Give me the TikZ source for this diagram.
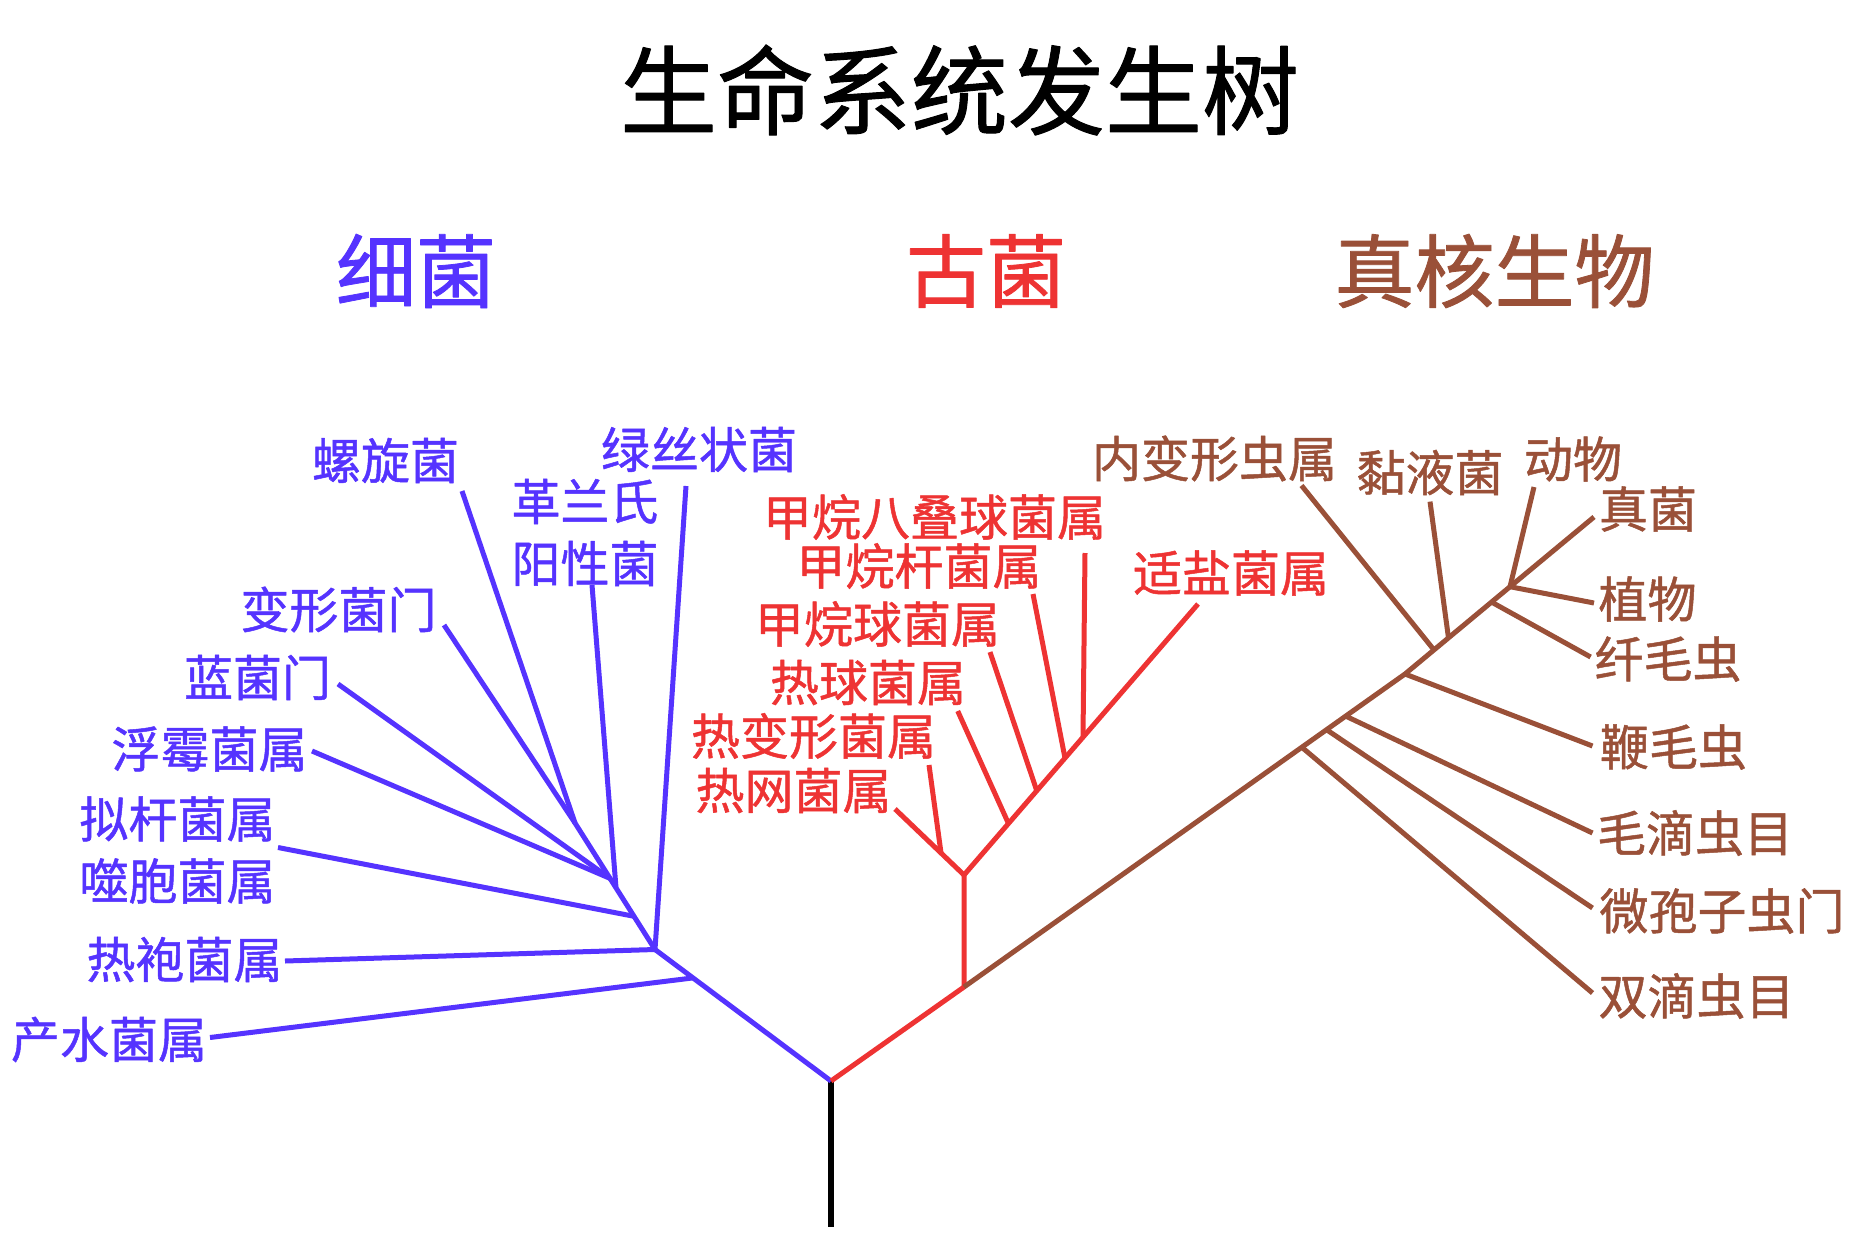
\documentclass[tikz,border=0pt]{standalone}
\usepackage{fontspec}
\setmainfont{Noto Sans CJK SC}
\newfontfamily\cjkb{Noto Sans CJK SC}[FakeBold=1]
\usetikzlibrary{calc}
\definecolor{bact}{HTML}{5533FF}
\definecolor{arch}{HTML}{EE3333}
\definecolor{euk}{HTML}{9A5038}
\begin{document}
\begin{tikzpicture}[x=1pt,y=-1pt,line join=round,
  lbl/.style={inner sep=0pt,font=\cjkb\fontsize{49}{62}\selectfont,align=center},
  head/.style={inner sep=0pt,font=\cjkb\fontsize{80}{90}\selectfont},
  bline/.style={draw=bact,line width=5pt},
  rline/.style={draw=arch,line width=5pt},
  eline/.style={draw=euk,line width=5pt}]
\useasboundingbox[fill=white] (0,0) rectangle (1850,1250);

% title and headings
\node[inner sep=0pt,font=\cjkb\fontsize{97}{110}\selectfont] (title) at (959.5,90) {生命系统发生树};
\node[head,text=bact] (hB) at (416,271) {细菌};
\node[head,text=arch] (hA) at (986,271) {古菌};
\node[head,text=euk] (hE) at (1494.5,271) {真核生物};

% root
\coordinate (root) at (831,1081);
\coordinate (rootbot) at (831,1227);
\draw[line width=6pt,black] (root) -- (rootbot);

% ---------- bacteria ----------
\coordinate (Jb) at (655,949.5);
\coordinate (Jtop) at (575,823);
\coordinate (Jpos) at ($(Jtop)!0.5125!(Jb)$);
\coordinate (Jcy) at ($(Jtop)!0.4375!(Jb)$);
\coordinate (Jbac) at ($(Jtop)!0.7375!(Jb)$);
\coordinate (Jaq) at ($(Jb)!0.216!(root)$);
\coordinate (tSpi) at (462,491);
\coordinate (tPro) at (444,625);
\coordinate (tPos) at (592,585);
\coordinate (tCya) at (338,684);
\coordinate (tPla) at (312,751);
\coordinate (tBac) at (278,847.5);
\coordinate (tGre) at (686,486);
\coordinate (tThe) at (285,961);
\coordinate (tAqu) at (210,1037.5);

\draw[bline] (root) -- (Jb) -- (Jtop);
\draw[bline] (tSpi) -- (Jtop);
\draw[bline] (tPro) -- (Jtop);
\draw[bline] (tPos) -- (Jpos);
\draw[bline] (tCya) -- (Jcy);
\draw[bline] (tPla) -- (Jcy);
\draw[bline] (tBac) -- (Jbac);
\draw[bline] (tGre) -- (Jb);
\draw[bline] (tThe) -- (Jb);
\draw[bline] (tAqu) -- (Jaq);

\node[lbl,text=bact] (lSpi) at (385.5,460.5) {螺旋菌};
\node[lbl,text=bact] (lGre) at (699,449.5) {绿丝状菌};
\node[lbl,text=bact] (lPos) at (585,532.5) {革兰氏\\阳性菌};
\node[lbl,text=bact] (lPro) at (338.5,609.5) {变形菌门};
\node[lbl,text=bact] (lCya) at (257.5,677.5) {蓝菌门};
\node[lbl,text=bact] (lPla) at (209.5,749) {浮霉菌属};
\node[lbl,text=bact] (lBac) at (177.5,850) {拟杆菌属\\噬胞菌属};
\node[lbl,text=bact] (lThe) at (184.5,959.5) {热袍菌属};
\node[lbl,text=bact] (lAqu) at (109,1039.5) {产水菌属};

% ---------- archaea ----------
\coordinate (Jae) at (964,987);
\coordinate (Jr) at (964,875);
\coordinate (tHal) at (1198,604);
\coordinate (tPyd) at (895,809);
\coordinate (Jfork) at ($(Jr)!0.333!(tPyd)$);
\coordinate (tThp) at (929,765);
\coordinate (JTco) at ($(Jr)!0.19!(tHal)$);
\coordinate (JMco) at ($(Jr)!0.311!(tHal)$);
\coordinate (JMba) at ($(Jr)!0.4316!(tHal)$);
\coordinate (JMsa) at ($(Jr)!0.5085!(tHal)$);
\coordinate (tTco) at (957.7,711);
\coordinate (tMco) at (990,652);
\coordinate (tMba) at (1033,594);
\coordinate (tMsa) at (1085,553);

\draw[rline] (root) -- (Jae) -- (Jr);
\draw[rline] (Jr) -- (tHal);
\draw[rline] (Jr) -- (tPyd);
\draw[rline] (tThp) -- (Jfork);
\draw[rline] (tTco) -- (JTco);
\draw[rline] (tMco) -- (JMco);
\draw[rline] (tMba) -- (JMba);
\draw[rline] (tMsa) -- (JMsa);

\node[lbl,text=arch] (lMsa) at (934.5,517) {甲烷八叠球菌属};
\node[lbl,text=arch] (lMba) at (919,566) {甲烷杆菌属};
\node[lbl,text=arch] (lMco) at (877.5,624) {甲烷球菌属};
\node[lbl,text=arch] (lTco) at (868,682.5) {热球菌属};
\node[lbl,text=arch] (lThp) at (813.5,736) {热变形菌属};
\node[lbl,text=arch] (lPyd) at (793.5,790.5) {热网菌属};
\node[lbl,text=arch] (lHal) at (1231,573) {适盐菌属};

% ---------- eukaryotes ----------
\coordinate (Je1) at (1405,674);
\coordinate (Je2) at (1510,586.7);
\coordinate (JDip) at ($(Jae)!0.766!(Je1)$);
\coordinate (JMic) at ($(Jae)!0.822!(Je1)$);
\coordinate (JTri) at ($(Jae)!0.8655!(Je1)$);
\coordinate (JEnt) at ($(Je1)!0.276!(Je2)$);
\coordinate (JSli) at ($(Je1)!0.414!(Je2)$);
\coordinate (JCil) at ($(Je1)!0.824!(Je2)$);
\coordinate (tEnt) at (1301.5,485.5);
\coordinate (tSli) at (1430,501.6);
\coordinate (tAni) at (1534,487);
\coordinate (tFun) at (1594,517);
\coordinate (tPlt) at (1594,603);
\coordinate (tCil) at (1590.6,657);
\coordinate (tFla) at (1592.5,746);
\coordinate (tTri) at (1592.5,833);
\coordinate (tMic) at (1592.5,908);
\coordinate (tDip) at (1592.5,993);

\draw[eline] (Jae) -- (Je1) -- (Je2);
\draw[eline] (tEnt) -- (JEnt);
\draw[eline] (tSli) -- (JSli);
\draw[eline] (tAni) -- (Je2);
\draw[eline] (tFun) -- (Je2);
\draw[eline] (tPlt) -- (Je2);
\draw[eline] (tCil) -- (JCil);
\draw[eline] (tFla) -- (Je1);
\draw[eline] (tTri) -- (JTri);
\draw[eline] (tMic) -- (JMic);
\draw[eline] (tDip) -- (JDip);

\node[lbl,text=euk] (lEnt) at (1214.5,458.5) {内变形虫属};
\node[lbl,text=euk] (lSli) at (1430,472.5) {黏液菌};
\node[lbl,text=euk] (lAni) at (1573,459) {动物};
\node[lbl,text=euk] (lFun) at (1648,509) {真菌};
\node[lbl,text=euk] (lPlt) at (1647.5,599) {植物};
\node[lbl,text=euk] (lCil) at (1668,659) {纤毛虫};
\node[lbl,text=euk] (lFla) at (1673.5,747) {鞭毛虫};
\node[lbl,text=euk] (lTri) at (1695,833) {毛滴虫目};
\node[lbl,text=euk] (lMic) at (1722,911) {微孢子虫门};
\node[lbl,text=euk] (lDip) at (1696.5,996) {双滴虫目};
\end{tikzpicture}
\end{document}
